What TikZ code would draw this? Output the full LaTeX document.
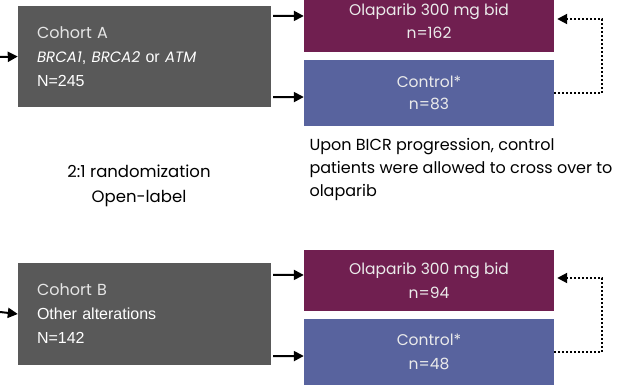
\documentclass[tikz,border=0pt]{standalone}
\usepackage{fontspec}
\setmainfont{Liberation Sans}
\newfontfamily\gothic{Poppins}
\usetikzlibrary{positioning}
\usetikzlibrary{arrows.meta}
\definecolor{cohortgrey}{RGB}{89,89,89}
\definecolor{olaplum}{RGB}{112,31,80}
\definecolor{ctrlblue}{RGB}{88,99,158}

\begin{document}
\begin{tikzpicture}[x=1pt, y=-1pt,
  cohort/.style = {fill=cohortgrey, text=white, minimum width=253pt, text width=215pt, align=left, inner xsep=19pt, font=\fontsize{16}{24}\selectfont},
  arm/.style = {text=white!92!black, minimum width=250pt, align=center, font=\gothic\fontsize{15.5}{23.5}\selectfont},
  arr/.style = {-{Triangle[length=10pt,width=10pt]}, line width=2pt},
  cross/.style = {-{Triangle[length=10pt,width=10pt]}, line width=2pt, dotted}]
\useasboundingbox (0,0) rectangle (621,385);
% cohort A
\node[cohort, minimum height=101pt] (cohA) at (144.5,56.5) {{\gothic\color{white!90!black}Cohort A}\\
  {\gothic\itshape\fontsize{15}{24}\selectfont BRCA1}, {\gothic\itshape\fontsize{15}{24}\selectfont BRCA2} or {\gothic\itshape\fontsize{15}{24}\selectfont ATM}\\
  N=245};
\node[arm, fill=olaplum, minimum height=62pt] (olaA) at (429,21) {Olaparib 300 mg bid\\n=162};
\node[arm, fill=ctrlblue, minimum height=66pt] (conA) at (429,93) {\raisebox{-2pt}{Control*}\\n=83};
\coordinate (inA) at (0,57);
\draw[arr] (inA) -- (cohA.west);
\draw[arr] ([xshift=2pt,yshift=-10pt]cohA.north east) -- (olaA.west |- 0,16);
\draw[arr] ([xshift=2pt,yshift=10pt]cohA.south east) -- (conA.west |- 0,97);
\draw[cross] (conA.east) -- (602,93) -- (602,19) -- ([xshift=3pt]olaA.east |- 0,19);
\node[anchor=north west, align=left, font=\gothic\fontsize{16}{23}\selectfont] (cross) at (306,135)
  {Upon BICR progression, control\\patients were allowed to cross over to\\olaparib};
\node[align=center, font=\gothic\fontsize{16.5}{25}\selectfont] (rand) at (139,186) {2:1 randomization\\Open-label};
% cohort B
\node[cohort, minimum height=102pt] (cohB) at (144.5,314) {{\gothic\color{white!90!black}Cohort B}\\
  Other alterations\\
  N=142};
\node[arm, fill=olaplum, minimum height=61pt] (olaB) at (429,280.5) {Olaparib 300 mg bid\\n=94};
\node[arm, fill=ctrlblue, minimum height=66pt] (conB) at (429,352) {Control*\\n=48};
\coordinate (inB) at (0,312);
\draw[arr] (inB) -- (cohB.west);
\draw[arr] ([xshift=2pt,yshift=-12pt]cohB.north east) -- (olaB.west |- 0,275);
\draw[arr] ([xshift=2pt,yshift=9pt]cohB.south east) -- (conB.west |- 0,356);
\draw[cross] (conB.east |- 0,352) -- (602,352) -- (602,278) -- ([xshift=3pt]olaB.east |- 0,278);
\end{tikzpicture}
\end{document}
